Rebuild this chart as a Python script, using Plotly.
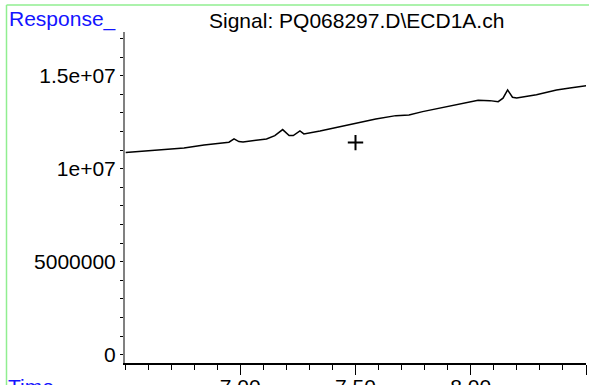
import plotly.graph_objects as go

# Chromatogram trace (retention time, response)
time_min = [6.503, 6.582, 6.669, 6.756, 6.843, 6.929, 6.951, 6.973, 6.994, 7.012,
            7.056, 7.114, 7.150, 7.184, 7.212, 7.230, 7.259, 7.276, 7.346, 7.432,
            7.516, 7.588, 7.675, 7.732, 7.791, 7.849, 7.936, 8.019, 8.032, 8.083,
            8.119, 8.140, 8.160, 8.181, 8.199, 8.285, 8.372, 8.430, 8.502]
response = [1.0864e7, 1.0939e7, 1.1025e7, 1.1116e7, 1.1277e7, 1.1368e7, 1.1422e7, 1.1599e7, 1.1454e7, 1.1438e7,
            1.1492e7, 1.1599e7, 1.1776e7, 1.2099e7, 1.1776e7, 1.1776e7, 1.2029e7, 1.1868e7, 1.2029e7, 1.2260e7,
            1.2512e7, 1.2673e7, 1.2850e7, 1.2888e7, 1.3065e7, 1.3210e7, 1.3425e7, 1.3656e7, 1.3677e7, 1.3656e7,
            1.3602e7, 1.3785e7, 1.4231e7, 1.3838e7, 1.3801e7, 1.3978e7, 1.4231e7, 1.4338e7, 1.4462e7]

cursor_x = [7.5]
cursor_y = [1.14e7]

x_tick_vals = [7.0, 7.5, 8.0, 8.5]
x_tick_text = ["7.00", "7.50", "8.00", ""]
y_tick_vals = [0, 5000000, 10000000, 15000000]
y_tick_text = ["0", "5000000", "1e+07", "1.5e+07"]

title_text = "Signal: PQ068297.D\\ECD1A.ch"
y_label = "Response_"
x_label = "Time"

FONT = "Liberation Sans, Arial, sans-serif"
W, H = 589, 385
L, R, T, B = 125, 3, 32, 22
pw, ph = W - L - R, H - T - B


def px(xp):
    return (xp - L) / pw


def py(yp):
    return (H - B - yp) / ph


fig = go.Figure()
fig.add_trace(go.Scatter(x=time_min, y=response, mode="lines",
                         line=dict(color="black", width=1.5), hoverinfo="skip"))
fig.add_trace(go.Scatter(x=cursor_x, y=cursor_y, mode="markers",
                         marker=dict(symbol="cross-thin", size=11,
                                     line=dict(color="black", width=2)),
                         hoverinfo="skip"))

fig.update_layout(
    width=W, height=H,
    margin=dict(l=L, r=R, t=T, b=B, pad=0, autoexpand=False),
    paper_bgcolor="white", plot_bgcolor="white",
    showlegend=False,
    font=dict(family=FONT, size=21, color="black"),
    xaxis=dict(range=[6.5, 8.5], tickmode="array", tickvals=x_tick_vals, ticktext=x_tick_text,
               ticks="outside", ticklen=10, tickwidth=1, tickcolor="black",
               showline=True, linecolor="black", linewidth=1.5,
               showgrid=False, zeroline=False, automargin=False,
               ticklabelstandoff=-6,
               minor=dict(dtick=0.1, tick0=0, ticks="outside", ticklen=5,
                          tickcolor="black", tickwidth=1, showgrid=False),
               tickfont=dict(family=FONT, size=21, color="black")),
    yaxis=dict(range=[-446000, 1.7345e7], tickmode="array", tickvals=y_tick_vals, ticktext=y_tick_text,
               ticks="outside", ticklen=3, tickwidth=1, tickcolor="black",
               showline=True, linecolor="#808080", linewidth=2,
               showgrid=False, zeroline=False, automargin=False,
               minor=dict(dtick=1000000, tick0=0, ticks="outside", ticklen=3,
                          tickcolor="black", tickwidth=1, showgrid=False),
               tickfont=dict(family=FONT, size=21, color="black")),
)

# green frame (left and top edges)
fig.add_shape(type="line", xref="paper", yref="paper", x0=px(6.5), x1=px(6.5), y0=py(5), y1=py(H + 5),
              line=dict(color="#90ee90", width=1.5))
fig.add_shape(type="line", xref="paper", yref="paper", x0=px(6.5), x1=px(W + 5), y0=py(5), y1=py(5),
              line=dict(color="#90ee90", width=1.5))

fig.add_annotation(text=title_text, xref="paper", yref="paper", x=px(356), y=py(20),
                   xanchor="center", yanchor="middle", showarrow=False,
                   font=dict(family=FONT, size=21, color="black"))
fig.add_annotation(text=y_label, xref="paper", yref="paper", x=px(7), y=py(19),
                   xanchor="left", yanchor="middle", showarrow=False,
                   font=dict(family=FONT, size=21, color="#1414ff"))
fig.add_annotation(text=x_label, xref="paper", yref="paper", x=px(6), y=py(386),
                   xanchor="left", yanchor="middle", showarrow=False,
                   font=dict(family=FONT, size=21, color="#1414ff"))

fig.write_html("out.html", config={"displayModeBar": False, "staticPlot": True},
               post_script="document.body.style.margin='0';document.body.style.overflow='hidden';")
